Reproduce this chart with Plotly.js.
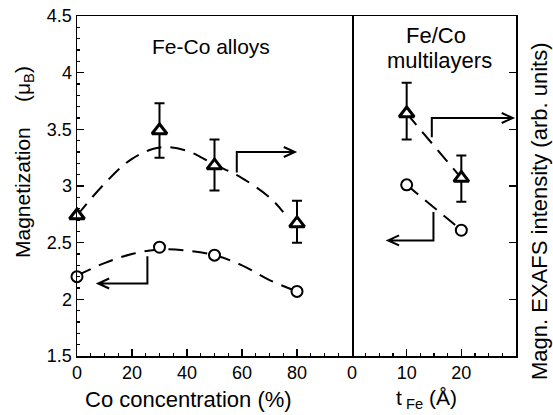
<!DOCTYPE html>
<html>
<head>
<meta charset="utf-8">
<script src="https://cdn.plot.ly/plotly-3.0.1.min.js"></script>
<style>html,body{margin:0;padding:0;background:#fff;}#chart{width:553px;height:415px;}</style>
</head>
<body>
<div id="chart"></div>
<script>
// ---- Data ----
const coConc = [0, 30, 50, 80];                       // Co concentration (%)
const alloyMag = [2.20, 2.46, 2.39, 2.07];            // circles, magnetization (muB)
const alloyExafs = [2.74, 3.49, 3.18, 2.67];          // triangles, magn. EXAFS intensity
const alloyExafsErrUp = [0, 0.24, 0.23, 0.20];
const alloyExafsErrDn = [0, 0.24, 0.22, 0.17];

const alloyMagFitX = [0, 10, 20, 30, 40, 50, 60, 70, 80];
const alloyMagFitY = [2.21, 2.32, 2.40, 2.44, 2.43, 2.39, 2.30, 2.17, 2.07];
const alloyExafsFitX = [0, 10, 20, 30, 40, 50, 60, 70, 75];
const alloyExafsFitY = [2.74, 3.02, 3.24, 3.34, 3.31, 3.19, 3.07, 2.90, 2.77];

const tFe = [10, 20];                                 // t_Fe (Angstrom)
const mlMag = [3.01, 2.61];
const mlExafs = [3.64, 3.07];
const mlExafsErrUp = [0.27, 0.20];
const mlExafsErrDn = [0.23, 0.21];

const xTicksLeft = [0, 20, 40, 60, 80];
const xTicksRight = [0, 10, 20];

// arrow polylines (data coords) : which panel, points
const arrows = [
  {ax: 'x',  pts: [[58.1, 3.12], [58.1, 3.30], [79.2, 3.30]]},
  {ax: 'x',  pts: [[25.6, 2.38], [25.6, 2.14], [7.7, 2.14]]},
  {ax: 'x2', pts: [[14.6, 3.43], [14.6, 3.60], [29.4, 3.60]]},
  {ax: 'x2', pts: [[14.9, 2.77], [14.9, 2.52], [6.6, 2.52]]}
];

// ---- Layout geometry ----
const W = 553, H = 415, ML = 77, MR = 37, MT = 16, MB = 59;
const PW = W - ML - MR, PH = H - MT - MB;
const split = 275 / PW;
const xRangeL = [0, 100], xRangeR = [0, 30], yRange = [1.5, 4.5];
const FONT = 'Liberation Sans, Arial, sans-serif';

const pxPerX = {x: split * PW / (xRangeL[1] - xRangeL[0]), x2: (1 - split) * PW / (xRangeR[1] - xRangeR[0])};
const pxPerY = PH / (yRange[1] - yRange[0]);

function arrowPath(a) {
  const p = a.pts;
  const n = p.length;
  const tip = p[n - 1], prev = p[n - 2];
  const sx = pxPerX[a.ax], sy = pxPerY;
  let dx = (tip[0] - prev[0]) * sx, dy = (tip[1] - prev[1]) * sy;
  const L = Math.hypot(dx, dy); dx /= L; dy /= L;
  const len = 11, hw = 5;
  const bx = -dx * len, by = -dy * len;
  const h1 = [tip[0] + (bx + (-dy) * hw) / sx, tip[1] + (by + dx * hw) / sy];
  const h2 = [tip[0] + (bx - (-dy) * hw) / sx, tip[1] + (by - dx * hw) / sy];
  let d = 'M ' + p.map(q => q[0] + ',' + q[1]).join(' L ');
  d += ' M ' + h1[0] + ',' + h1[1] + ' L ' + tip[0] + ',' + tip[1] + ' L ' + h2[0] + ',' + h2[1];
  return {type: 'path', xref: a.ax, yref: 'y', path: d, line: {color: 'black', width: 2}};
}

const dashStyle = '15px,9px';
const traces = [
  {x: alloyMagFitX, y: alloyMagFitY, xaxis: 'x', yaxis: 'y', mode: 'lines',
   line: {color: 'black', width: 2, dash: dashStyle, shape: 'spline'}, hoverinfo: 'skip'},
  {x: alloyExafsFitX, y: alloyExafsFitY, xaxis: 'x', yaxis: 'y', mode: 'lines',
   line: {color: 'black', width: 2, dash: dashStyle, shape: 'spline'}, hoverinfo: 'skip'},
  {x: tFe, y: mlMag, xaxis: 'x2', yaxis: 'y', mode: 'lines',
   line: {color: 'black', width: 2, dash: dashStyle}, hoverinfo: 'skip'},
  {x: tFe, y: mlExafs, xaxis: 'x2', yaxis: 'y', mode: 'lines',
   line: {color: 'black', width: 2, dash: dashStyle}, hoverinfo: 'skip'},
  {x: coConc, y: alloyMag, xaxis: 'x', yaxis: 'y', mode: 'markers', cliponaxis: false,
   marker: {symbol: 'circle', size: 11, color: 'white', line: {color: 'black', width: 2}}},
  {x: coConc, y: alloyExafs, xaxis: 'x', yaxis: 'y', mode: 'markers', cliponaxis: false,
   error_y: {type: 'data', symmetric: false, array: alloyExafsErrUp, arrayminus: alloyExafsErrDn,
             color: 'black', thickness: 2, width: 5},
   marker: {symbol: 'triangle-up', size: 13, color: 'white', line: {color: 'black', width: 3}}},
  {x: tFe, y: mlMag, xaxis: 'x2', yaxis: 'y', mode: 'markers', cliponaxis: false,
   marker: {symbol: 'circle', size: 11, color: 'white', line: {color: 'black', width: 2}}},
  {x: tFe, y: mlExafs, xaxis: 'x2', yaxis: 'y', mode: 'markers', cliponaxis: false,
   error_y: {type: 'data', symmetric: false, array: mlExafsErrUp, arrayminus: mlExafsErrDn,
             color: 'black', thickness: 2, width: 5},
   marker: {symbol: 'triangle-up', size: 13, color: 'white', line: {color: 'black', width: 3}}},
  {x: [null], y: [null], xaxis: 'x2', yaxis: 'y2', mode: 'markers', hoverinfo: 'skip'}
];

function px2paperX(px) { return (px - ML) / PW; }
function px2paperY(py) { return (H - MB - py) / PH; }

const minorL = []; for (let v = 5; v < 100; v += 5) if (v % 20) minorL.push(v);
const minorR = []; for (let v = 2.5; v < 30; v += 2.5) if (v % 10) minorR.push(v);

const axisCommon = {showgrid: false, zeroline: false, showline: true, linecolor: 'black', linewidth: 1.5,
  ticks: 'inside', tickcolor: 'black', tickwidth: 1.5, ticklen: 7,
  tickfont: {family: FONT, size: 18, color: 'black'}, fixedrange: true};

function ann(text, px, py, size, angle) {
  return {text: text, x: px2paperX(px), y: px2paperY(py), xref: 'paper', yref: 'paper',
    xanchor: 'center', yanchor: 'middle', textangle: angle || 0, showarrow: false,
    font: {family: FONT, size: size, color: 'black'}};
}

const layout = {
  width: W, height: H, margin: {l: ML, r: MR, t: MT, b: MB},
  paper_bgcolor: 'white', plot_bgcolor: 'white', showlegend: false,
  xaxis: Object.assign({}, axisCommon, {domain: [0, split], range: xRangeL, anchor: 'y', mirror: true,
    tickmode: 'array', tickvals: xTicksLeft,
    minor: {tickmode: 'array', tickvals: minorL, ticks: 'inside', ticklen: 3, tickcolor: 'black', tickwidth: 1.2}}),
  xaxis2: Object.assign({}, axisCommon, {domain: [split, 1], range: xRangeR, anchor: 'y', mirror: true,
    tickmode: 'array', tickvals: xTicksRight,
    minor: {tickmode: 'array', tickvals: minorR, ticks: 'inside', ticklen: 3, tickcolor: 'black', tickwidth: 1.2}}),
  yaxis: Object.assign({}, axisCommon, {range: yRange, anchor: 'x', mirror: true, dtick: 0.5, tick0: 1.5,
    minor: {dtick: 0.1, ticks: 'inside', ticklen: 3, tickcolor: 'black', tickwidth: 1.2}}),
  yaxis2: Object.assign({}, axisCommon, {range: yRange, anchor: 'x2', overlaying: 'y', side: 'right',
    dtick: 0.5, tick0: 1.5, showticklabels: false}),
  shapes: arrows.map(arrowPath),
  annotations: [
    ann('Fe-Co alloys', 211, 46, 21),
    ann('Fe/Co', 436, 35, 22),
    ann('multilayers', 439, 61, 22),
    ann('Co concentration (%)', 188, 399, 22),
    ann('t<sub> Fe</sub> (Å)', 426, 399, 21),
    ann('Magnetization', 23, 193, 21, -90),
    ann('(μ<sub>B</sub>)', 24, 84, 21, -90),
    ann('Magn. EXAFS intensity (arb. units)', 540, 212, 22, -90)
  ]
};

Plotly.newPlot('chart', traces, layout, {staticPlot: true, displayModeBar: false});
</script>
</body>
</html>
